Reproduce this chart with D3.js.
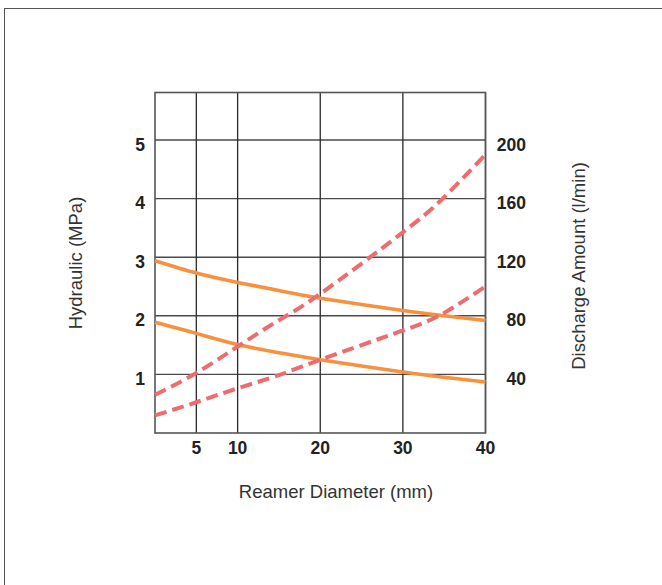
<!DOCTYPE html>
<html>
<head>
<meta charset="utf-8">
<script src="https://cdn.jsdelivr.net/npm/d3@7"></script>
<style>
  html, body { margin: 0; padding: 0; background: #fff; }
  svg { display: block; }
  text { font-family: "Liberation Sans", Arial, Helvetica, sans-serif; }
</style>
</head>
<body>
<svg id="chart" width="662" height="585"></svg>
<script>
// Reamer diameter (mm) at which the curves are sampled
const diameters = [0, 5, 10, 15, 20, 30, 35, 40];

// Hydraulic pressure (MPa), left axis
const hydraulicUpper = [2.94, 2.73, 2.57, 2.43, 2.30, 2.09, 2.00, 1.92];
const hydraulicLower = [1.89, 1.70, 1.51, 1.37, 1.25, 1.04, 0.95, 0.87];

// Discharge amount (l/min), right axis
const dischargeUpper = [26, 41, 59, 77, 95, 137, 161, 190];
const dischargeLower = [12, 21, 30.5, 39.5, 50, 70, 82, 100];

// Axis ticks
const xTicks = [5, 10, 20, 30, 40];
const leftTicks = [1, 2, 3, 4, 5];
const rightTicks = [40, 80, 120, 160, 200];

const svg = d3.select("#chart");

// outer frame
svg.append("rect")
  .attr("x", 4.5).attr("y", 8.5)
  .attr("width", 700).attr("height", 700)
  .attr("fill", "none").attr("stroke", "#555").attr("stroke-width", 1);

const plot = { left: 155, right: 485.5, top: 92.5, bottom: 433 };

const x = d3.scaleLinear().domain([0, 40]).range([plot.left, plot.right]);
const yL = d3.scaleLinear().domain([0, 5]).range([plot.bottom, 140]);
const yR = d3.scaleLinear().domain([0, 200]).range([plot.bottom, 140]);

const g = svg.append("g");

// horizontal grid lines
g.selectAll("line.hgrid").data(leftTicks).join("line")
  .attr("class", "hgrid")
  .attr("x1", plot.left).attr("x2", plot.right)
  .attr("y1", d => yL(d)).attr("y2", d => yL(d))
  .attr("stroke", "#4a4a4a").attr("stroke-width", 1.4);

// vertical grid lines
g.selectAll("line.vgrid").data(xTicks).join("line")
  .attr("class", "vgrid")
  .attr("x1", d => x(d)).attr("x2", d => x(d))
  .attr("y1", plot.top).attr("y2", plot.bottom)
  .attr("stroke", "#2a2a2a").attr("stroke-width", 1.3);

// plot border
g.append("rect")
  .attr("x", plot.left).attr("y", plot.top)
  .attr("width", plot.right - plot.left).attr("height", plot.bottom - plot.top)
  .attr("fill", "none").attr("stroke", "#555").attr("stroke-width", 1.6);

// curves
const lineL = d3.line().x((d, i) => x(diameters[i])).y(d => yL(d)).curve(d3.curveNatural);
const lineR = d3.line().x((d, i) => x(diameters[i])).y(d => yR(d)).curve(d3.curveNatural);

const orange = "#f7913d";
const red = "#f06b6b";

[hydraulicUpper, hydraulicLower].forEach(s => {
  g.append("path").attr("d", lineL(s))
    .attr("fill", "none").attr("stroke", orange)
    .attr("stroke-width", 3.6).attr("stroke-linecap", "butt");
});

[dischargeUpper, dischargeLower].forEach(s => {
  g.append("path").attr("d", lineR(s))
    .attr("fill", "none").attr("stroke", red)
    .attr("stroke-width", 4).attr("stroke-dasharray", "12 6")
    .attr("stroke-linecap", "butt");
});

// tick labels
const tickFont = { size: 17.5, weight: "bold", color: "#222" };

g.selectAll("text.lt").data(leftTicks).join("text")
  .attr("class", "lt")
  .attr("x", 145).attr("y", d => yL(d) + 10.5)
  .attr("text-anchor", "end")
  .attr("font-size", tickFont.size).attr("font-weight", tickFont.weight)
  .attr("fill", tickFont.color)
  .text(d => d);

g.selectAll("text.rt").data(rightTicks).join("text")
  .attr("class", "rt")
  .attr("x", 526).attr("y", d => yR(d) + 10.5)
  .attr("text-anchor", "end")
  .attr("font-size", tickFont.size).attr("font-weight", tickFont.weight)
  .attr("fill", tickFont.color)
  .text(d => d);

g.selectAll("text.xt").data(xTicks).join("text")
  .attr("class", "xt")
  .attr("x", d => x(d)).attr("y", 454)
  .attr("text-anchor", "middle")
  .attr("font-size", tickFont.size).attr("font-weight", tickFont.weight)
  .attr("fill", tickFont.color)
  .text(d => d);

// axis titles
svg.append("text")
  .attr("x", 336).attr("y", 498)
  .attr("text-anchor", "middle")
  .attr("font-size", 18.5).attr("fill", "#333")
  .text("Reamer Diameter (mm)");

svg.append("text")
  .attr("transform", "translate(82,263) rotate(-90)")
  .attr("text-anchor", "middle")
  .attr("font-size", 18.5).attr("fill", "#333")
  .text("Hydraulic (MPa)");

svg.append("text")
  .attr("transform", "translate(585,266) rotate(-90)")
  .attr("text-anchor", "middle")
  .attr("font-size", 18.5).attr("fill", "#333")
  .text("Discharge Amount (l/min)");
</script>
</body>
</html>
